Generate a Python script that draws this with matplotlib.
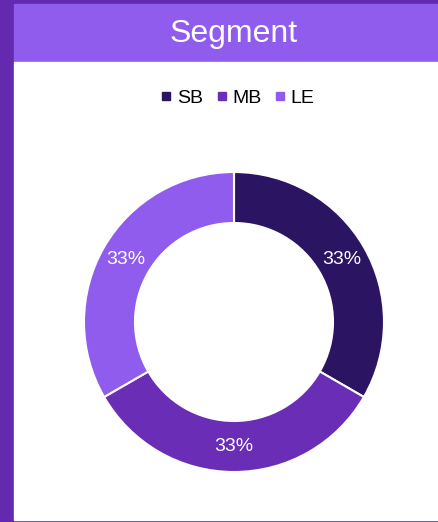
import matplotlib.pyplot as plt
from matplotlib.patches import Rectangle
from matplotlib.lines import Line2D

plt.rcParams['font.family'] = ['Liberation Sans', 'DejaVu Sans']

# data
segments = ['SB', 'MB', 'LE']
shares = [1, 1, 1]
colors = ['#2b1462', '#6a2db5', '#8f5ced']

W, H = 439, 522
fig = plt.figure(figsize=(W / 100, H / 100), dpi=100)
fig.patch.set_facecolor('#6329af')

def px_rect(x0, y0, x1, y1, color):
    # pixel box (top-left origin) -> figure fraction
    fig.patches.append(Rectangle((x0 / W, 1 - y1 / H), (x1 - x0) / W, (y1 - y0) / H,
                                 transform=fig.transFigure, color=color, zorder=-5))

px_rect(14, 4, W, 62, '#8f5ced')
px_rect(14, 62, W, 520, 'white')

fig.text(234 / W, 1 - 34 / H, 'Segment', color='white', fontsize=23,
         ha='center', va='center')

# donut
cx, cy, r = 234, 322, 150
ax = fig.add_axes([(cx - r) / W, 1 - (cy + r) / H, 2 * r / W, 2 * r / H])
ax.set_zorder(2)
ax.pie(shares, colors=colors, startangle=90, counterclock=False,
       autopct='%.0f%%', pctdistance=0.83,
       wedgeprops=dict(width=0.34, edgecolor='white', linewidth=1.5),
       textprops=dict(color='white', fontsize=14))
ax.set_xlim(-1, 1)
ax.set_ylim(-1, 1)
ax.set_aspect('equal')
ax.axis('off')

handles = [Line2D([], [], marker='s', linestyle='none', markersize=6,
                  color=c) for c in colors]
fig.legend(handles, segments, loc='center', bbox_to_anchor=(238 / W, 1 - 98 / H),
           ncol=3, frameon=False, fontsize=14, handlelength=0.5,
           handletextpad=0.3, columnspacing=0.7)

fig.savefig('out.png', dpi=100)
